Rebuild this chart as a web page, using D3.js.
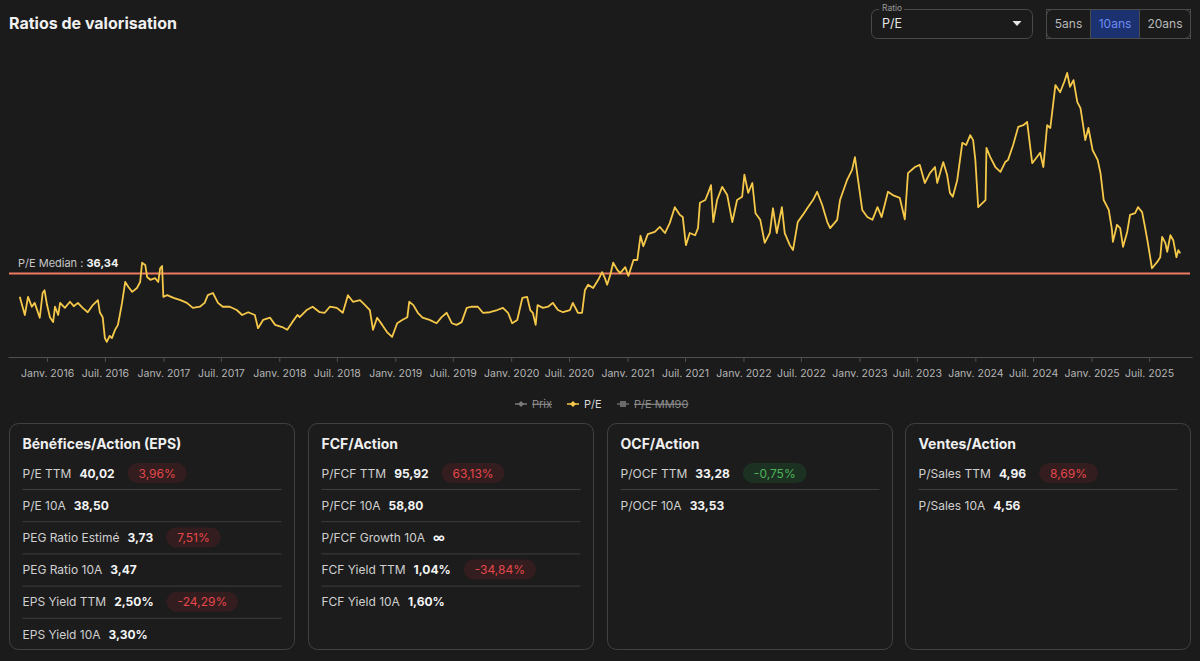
<!DOCTYPE html>
<html>
<head>
<meta charset="utf-8">
<style>
    body {
        margin: 0;
        background: #1b1b1b;
        font-family: Inter, "Noto Sans", sans-serif;
    }
    #mySvg {
        display: block;
        width: 1200px;
        height: 661px;
    }
    .axis path, .axis line { stroke: #505050; }
    .axis text { fill: #b5b5b5; font-size: 10.5px; font-family: Inter, sans-serif; }
</style>
<script src="https://d3js.org/d3.v7.min.js"></script>
</head>
<body>
<svg id="mySvg"></svg>
<script type="text/javascript">
// P/E history
const peDates = [
  "2015-10-07","2015-10-23","2015-11-02","2015-11-14","2015-11-23","2015-12-09","2015-12-18","2015-12-24",
  "2016-01-01","2016-01-10","2016-01-20","2016-01-26","2016-02-05","2016-02-11","2016-02-26","2016-03-13",
  "2016-03-25","2016-04-07","2016-04-22","2016-05-08","2016-05-24","2016-06-09","2016-06-15","2016-06-24",
  "2016-07-01","2016-07-07","2016-07-16","2016-07-23","2016-08-02","2016-08-11","2016-08-17","2016-08-24",
  "2016-09-03","2016-09-13","2016-09-25","2016-10-10","2016-10-20","2016-10-26","2016-11-05","2016-11-11",
  "2016-11-21","2016-12-06","2016-12-16","2016-12-22","2016-12-28","2017-01-01","2017-01-13","2017-02-02",
  "2017-02-24","2017-03-16","2017-04-04","2017-04-26","2017-05-11","2017-05-21","2017-06-06","2017-06-22",
  "2017-07-07","2017-07-29","2017-08-20","2017-09-06","2017-09-25","2017-10-16","2017-10-26","2017-11-11",
  "2017-12-03","2017-12-19","2018-01-10","2018-01-26","2018-02-11","2018-02-27","2018-03-06","2018-03-28",
  "2018-04-16","2018-05-08","2018-05-24","2018-06-09","2018-07-01","2018-07-20","2018-08-05","2018-08-21",
  "2018-09-12","2018-09-28","2018-10-13","2018-10-23","2018-11-05","2018-11-21","2018-12-06","2018-12-22",
  "2019-01-07","2019-01-23","2019-02-08","2019-02-14","2019-02-27","2019-03-13","2019-03-28","2019-04-19",
  "2019-05-11","2019-05-27","2019-06-12","2019-06-28","2019-07-13","2019-07-29","2019-08-14","2019-08-30",
  "2019-09-18","2019-10-04","2019-10-26","2019-11-18","2019-12-06","2019-12-22","2020-01-04","2020-01-20",
  "2020-02-05","2020-02-20","2020-03-01","2020-03-09","2020-03-18","2020-03-24","2020-04-10","2020-04-26",
  "2020-05-11","2020-05-27","2020-06-12","2020-07-04","2020-07-13","2020-07-29","2020-08-11","2020-08-20",
  "2020-08-30","2020-09-15","2020-10-01","2020-10-13","2020-10-22","2020-10-29","2020-11-08","2020-11-17",
  "2020-11-30","2020-12-09","2020-12-25","2021-01-04","2021-01-20","2021-02-01","2021-02-11","2021-02-20",
  "2021-03-06","2021-03-28","2021-04-13","2021-04-29","2021-05-14","2021-05-30","2021-06-15","2021-06-24",
  "2021-07-04","2021-07-16","2021-08-02","2021-08-11","2021-08-17","2021-09-03","2021-09-12","2021-09-21",
  "2021-09-28","2021-10-10","2021-10-26","2021-11-11","2021-11-27","2021-12-12","2021-12-28","2022-01-04",
  "2022-01-16","2022-01-29","2022-02-08","2022-02-23","2022-03-09","2022-03-25","2022-04-04","2022-04-16",
  "2022-05-02","2022-05-11","2022-05-27","2022-06-06","2022-06-21","2022-07-07","2022-07-23","2022-08-08",
  "2022-08-21","2022-09-06","2022-09-22","2022-10-01","2022-10-23","2022-11-01","2022-11-23","2022-12-09",
  "2022-12-18","2022-12-27","2023-01-10","2023-01-26","2023-02-11","2023-02-27","2023-03-12","2023-04-01",
  "2023-04-16","2023-05-08","2023-05-24","2023-06-03","2023-06-25","2023-07-10","2023-07-26","2023-08-11",
  "2023-08-27","2023-09-03","2023-09-22","2023-10-04","2023-10-13","2023-10-22","2023-11-05","2023-11-21",
  "2023-12-03","2023-12-16","2023-12-25","2024-01-01","2024-01-10","2024-02-02","2024-02-05","2024-02-17",
  "2024-03-04","2024-03-20","2024-04-04","2024-04-13","2024-04-29","2024-05-15","2024-05-31","2024-06-12",
  "2024-06-28","2024-07-10","2024-07-23","2024-08-02","2024-08-14","2024-08-24","2024-09-09","2024-09-24",
  "2024-10-07","2024-10-16","2024-10-25","2024-11-05","2024-11-17","2024-11-27","2024-12-06","2024-12-12",
  "2024-12-22","2025-01-04","2025-01-20","2025-01-29","2025-02-08","2025-02-24","2025-03-06","2025-03-09",
  "2025-03-22","2025-04-01","2025-04-10","2025-04-23","2025-05-02","2025-05-18","2025-05-27","2025-06-09",
  "2025-06-18","2025-06-27","2025-07-10","2025-07-26","2025-08-05","2025-08-11","2025-08-21","2025-08-27",
  "2025-09-06","2025-09-15","2025-09-25","2025-10-01","2025-10-07"
];
const peValues = [
  32.1,28.8,32.1,30.3,31.0,28.3,32.8,33.3,
  30.6,28.4,27.5,30.3,28.8,31.0,30.1,31.2,
  30.4,31.0,30.1,29.3,30.6,31.5,29.3,28.4,
  24.6,23.9,25.0,24.6,26.1,27.0,28.8,31.0,
  34.8,33.9,33.0,33.7,34.8,38.3,37.9,35.7,
  35.2,35.5,34.8,37.3,37.7,32.1,32.4,31.9,
  31.5,31.0,30.1,30.3,31.0,32.4,32.8,31.0,
  30.3,30.3,29.7,28.8,29.3,28.8,26.4,27.9,
  28.3,27.0,26.6,26.1,27.5,28.8,28.4,29.7,
  30.3,29.3,29.2,30.3,30.1,29.2,32.4,31.2,
  31.5,30.6,29.7,26.1,28.3,27.0,25.7,24.8,
  27.3,27.9,28.4,31.2,30.6,29.2,28.3,27.9,
  27.3,28.4,29.2,27.3,27.0,27.5,30.1,30.3,
  30.3,29.2,29.3,29.7,30.1,29.2,27.3,27.9,
  31.9,32.1,29.7,29.2,27.0,30.6,30.1,30.3,
  31.0,29.7,29.3,29.7,31.0,29.2,29.2,33.3,
  34.3,33.7,35.2,36.6,35.5,34.3,36.1,38.3,
  37.0,36.4,37.5,35.9,38.8,38.8,43.2,41.3,
  43.5,43.9,44.8,43.7,45.5,48.4,47.0,46.6,
  41.5,43.7,43.3,44.6,49.2,49.7,51.0,52.4,
  45.7,49.7,52.1,50.6,45.7,49.7,50.3,54.3,
  51.0,52.8,47.3,46.1,41.9,43.7,48.2,43.7,
  48.4,43.7,41.5,40.6,45.7,47.0,48.4,49.7,
  51.2,48.8,45.7,44.6,46.1,49.7,53.3,55.2,
  57.5,53.7,47.9,46.6,46.1,48.4,46.6,51.2,
  50.6,50.1,46.2,54.6,55.7,56.1,52.8,54.6,
  55.7,52.8,56.6,54.3,51.0,50.3,53.3,60.1,
  59.7,61.5,60.6,57.0,48.4,49.7,59.2,57.5,
  55.7,54.8,56.6,57.0,59.7,63.0,63.3,63.9,
  56.4,57.3,58.3,55.7,63.3,62.8,70.6,69.3,
  71.2,72.8,70.3,71.5,67.5,66.4,63.0,60.6,
  62.8,58.8,57.0,54.6,49.7,47.9,44.3,42.1,
  45.2,44.6,41.2,43.9,47.0,47.3,48.4,47.5,
  44.8,41.9,37.3,38.4,39.3,43.0,41.9,40.3,
  43.3,42.4,39.3,40.6,40.0
];
const medianPE = 36.34;
const medianLabel = "P/E Median : ";

const legendNames = ["Prix", "P/E", "P/E MM90"];
const legendActive = [false, true, false];

const periodNames = ["5ans", "10ans", "20ans"];
const activePeriod = "10ans";

const cardTitles = ["Bénéfices/Action (EPS)", "FCF/Action", "OCF/Action", "Ventes/Action"];
const epsLabels = ["P/E TTM", "P/E 10A", "PEG Ratio Estimé", "PEG Ratio 10A", "EPS Yield TTM", "EPS Yield 10A"];
const epsValues = ["40,02", "38,50", "3,73", "3,47", "2,50%", "3,30%"];
const epsChanges = ["3,96%", null, "7,51%", null, "-24,29%", null];
const epsTones = ["bad", null, "bad", null, "bad", null];
const fcfLabels = ["P/FCF TTM", "P/FCF 10A", "P/FCF Growth 10A", "FCF Yield TTM", "FCF Yield 10A"];
const fcfValues = ["95,92", "58,80", "∞", "1,04%", "1,60%"];
const fcfChanges = ["63,13%", null, null, "-34,84%", null];
const fcfTones = ["bad", null, null, "bad", null];
const ocfLabels = ["P/OCF TTM", "P/OCF 10A"];
const ocfValues = ["33,28", "33,53"];
const ocfChanges = ["-0,75%", null];
const ocfTones = ["good", null];
const salesLabels = ["P/Sales TTM", "P/Sales 10A"];
const salesValues = ["4,96", "4,56"];
const salesChanges = ["8,69%", null];
const salesTones = ["bad", null];

const svg = d3.select('#mySvg');
const parse = d3.timeParse('%Y-%m-%d');
const data = peDates.map((d, i) => ({ date: parse(d), pe: peValues[i] }));

/**
 * Header: title, ratio select, period buttons
 */
svg.append('text')
    .attr('x', 9).attr('y', 29)
    .attr('fill', '#f0f0f0')
    .style('font-size', '16px').style('font-weight', 700)
    .text('Ratios de valorisation');

const sel = svg.append('g');
sel.append('rect')
    .attr('x', 871.5).attr('y', 9.5).attr('width', 161).attr('height', 29).attr('rx', 6)
    .attr('fill', 'none').attr('stroke', '#4a4a4a');
sel.append('rect')
    .attr('x', 879).attr('y', 5).attr('width', 25).attr('height', 8)
    .attr('fill', '#1b1b1b');
sel.append('text')
    .attr('x', 882).attr('y', 11)
    .attr('fill', '#9a9a9a').style('font-size', '8.5px')
    .text('Ratio');
sel.append('text')
    .attr('x', 882).attr('y', 28)
    .attr('fill', '#e6e6e6').style('font-size', '12.5px')
    .text('P/E');
sel.append('path')
    .attr('d', 'M1012.5,21 L1021.5,21 L1017,26 Z')
    .attr('fill', '#e6e6e6');

const btnW = [44, 49, 51];
const btnStart = [1046.5, 1090.5, 1139.5];
const btns = svg.append('g');
btns.selectAll('rect.seg')
    .data(periodNames)
    .enter()
    .append('rect')
    .attr('class', 'seg')
    .attr('x', (d, i) => btnStart[i]).attr('y', 9.5)
    .attr('width', (d, i) => btnW[i]).attr('height', 29)
    .attr('fill', d => d === activePeriod ? '#1c3170' : 'none')
    .attr('stroke', '#4a4a4a');
btns.append('rect')
    .attr('x', 1046.5).attr('y', 9.5).attr('width', 144).attr('height', 29).attr('rx', 6)
    .attr('fill', 'none').attr('stroke', '#4a4a4a');
btns.selectAll('text')
    .data(periodNames)
    .enter()
    .append('text')
    .attr('x', (d, i) => btnStart[i] + btnW[i] / 2).attr('y', 28)
    .attr('text-anchor', 'middle')
    .attr('fill', d => d === activePeriod ? '#6d8cf5' : '#b8b8b8')
    .style('font-size', '12px')
    .text(d => d);

/**
 * Chart
 */
const x = d3.scaleTime()
    .domain([parse('2015-08-31'), parse('2025-11-13')])
    .range([8, 1192]);
const y = d3.scaleLinear()
    .domain([21.16, 75.16])
    .range([357, 60]);

svg.append('g')
    .attr('class', 'axis')
    .attr('transform', 'translate(0,357)')
    .call(d3.axisBottom(x)
        .ticks(d3.timeMonth.every(6))
        .tickSize(5).tickSizeOuter(0).tickPadding(8)
        .tickFormat(d => (d.getMonth() === 0 ? 'Janv. ' : 'Juil. ') + d.getFullYear()));

svg.append('line')
    .attr('x1', 9).attr('x2', 1190)
    .attr('y1', y(medianPE)).attr('y2', y(medianPE))
    .attr('stroke', '#ee7a62').attr('stroke-width', 2);

const medText = svg.append('text')
    .attr('x', 18).attr('y', y(medianPE) - 7)
    .attr('fill', '#c8c8c8').style('font-size', '11px')
    .text(medianLabel);
medText.append('tspan')
    .attr('fill', '#f2f2f2').style('font-weight', 700)
    .text(String(medianPE).replace('.', ','));

svg.append('path')
    .datum(data)
    .attr('fill', 'none')
    .attr('stroke', '#f5c84a')
    .attr('stroke-width', 1.8)
    .attr('stroke-linejoin', 'round')
    .attr('d', d3.line().x(d => x(d.date)).y(d => y(d.pe)));

/**
 * Legend
 */
const legX = [515, 567, 617];
const legColor = ['#7a7a7a', '#f5c84a', '#6a6a6a'];
const leg = svg.append('g')
    .selectAll('g')
    .data(legendNames)
    .enter()
    .append('g')
    .attr('transform', (d, i) => 'translate(' + legX[i] + ',404)');
leg.append('line')
    .attr('x1', 0).attr('x2', 12)
    .attr('stroke', (d, i) => legColor[i]).attr('stroke-width', 1.5);
leg.append('path')
    .attr('d', (d, i) => i === 2 ? 'M3,-3 h6 v6 h-6 Z' : 'M6,-3 L9,0 L6,3 L3,0 Z')
    .attr('fill', (d, i) => legColor[i]);
leg.append('text')
    .attr('x', 17).attr('y', 4)
    .attr('fill', (d, i) => legendActive[i] ? '#d8d8d8' : '#8a8a8a')
    .style('font-size', '11px')
    .style('text-decoration', (d, i) => legendActive[i] ? 'none' : 'line-through')
    .text(d => d);

/**
 * Cards
 */
const cards = [
    { labels: epsLabels, values: epsValues, changes: epsChanges, tones: epsTones },
    { labels: fcfLabels, values: fcfValues, changes: fcfChanges, tones: fcfTones },
    { labels: ocfLabels, values: ocfValues, changes: ocfChanges, tones: ocfTones },
    { labels: salesLabels, values: salesValues, changes: salesChanges, tones: salesTones }
];
const cardX = [9.5, 308.5, 607.5, 905.5];
const cardW = 285;
const rowStep = 32.2;

cards.forEach((c, ci) => {
    const g = svg.append('g').attr('transform', 'translate(' + cardX[ci] + ',423.5)');
    g.append('rect')
        .attr('width', cardW).attr('height', 226).attr('rx', 9)
        .attr('fill', '#1c1c1c').attr('stroke', '#414141');
    g.append('text')
        .attr('x', 13).attr('y', 25)
        .attr('fill', '#efefef')
        .style('font-size', '14px').style('font-weight', 700)
        .text(cardTitles[ci]);

    c.labels.forEach((lab, ri) => {
        const cy = 49.5 + ri * rowStep;
        const row = g.append('g');
        const t1 = row.append('text')
            .attr('x', 13).attr('y', cy + 4.5)
            .attr('fill', '#d0d0d0').style('font-size', '12px')
            .text(lab);
        const w1 = t1.node().getComputedTextLength();
        const t2 = row.append('text')
            .attr('x', 13 + w1 + 8).attr('y', cy + 4.5)
            .attr('fill', '#f4f4f4').style('font-size', '12px').style('font-weight', 700)
            .text(c.values[ri]);
        const w2 = t2.node().getComputedTextLength();
        if (c.changes[ri]) {
            const good = c.tones[ri] === 'good';
            const bx = 13 + w1 + 8 + w2 + 13;
            const badgeText = row.append('text')
                .attr('x', bx + 11).attr('y', cy + 4.5)
                .attr('fill', good ? '#4fb35a' : '#e5484d')
                .style('font-size', '12px')
                .text(c.changes[ri]);
            const bw = badgeText.node().getComputedTextLength() + 22;
            row.insert('rect', 'text:last-child')
                .attr('x', bx).attr('y', cy - 10).attr('width', bw).attr('height', 20).attr('rx', 10)
                .attr('fill', good ? '#1c3121' : '#331d1e');
        }
        if (ri < c.labels.length - 1) {
            g.append('line')
                .attr('x1', 13).attr('x2', cardW - 13)
                .attr('y1', cy + 16.5).attr('y2', cy + 16.5)
                .attr('stroke', '#3e3e3e');
        }
    });
});
</script>
</body>
</html>
